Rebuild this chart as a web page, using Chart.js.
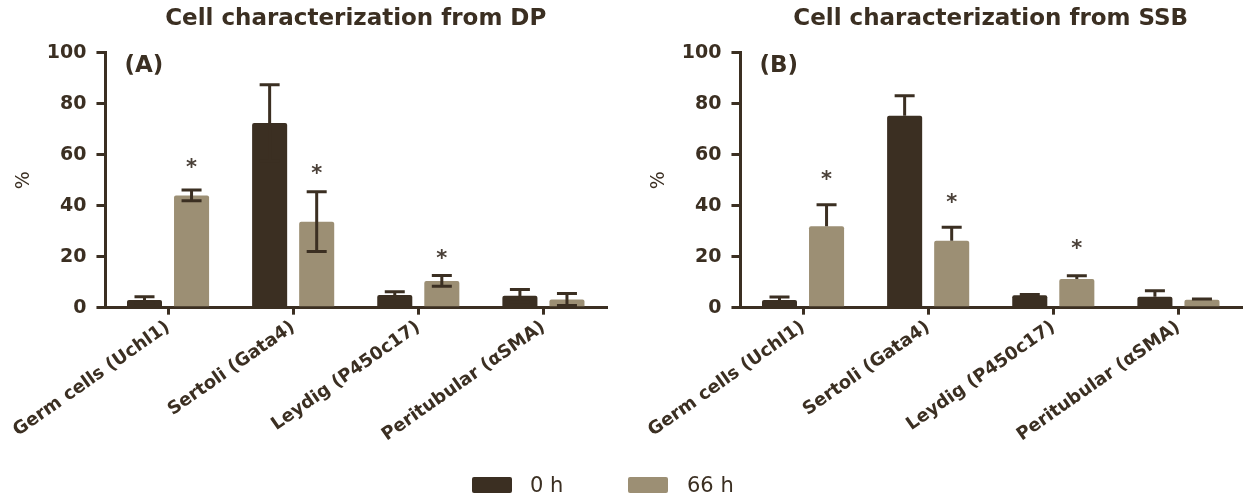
<!DOCTYPE html>
<html>
<head>
<meta charset="utf-8">
<script src="https://cdn.jsdelivr.net/npm/chart.js@4"></script>
<style>
  html, body { margin: 0; padding: 0; background: #ffffff; }
  #wrap { position: relative; width: 1254px; height: 502px; overflow: hidden; }
  #cA { position: absolute; left: 0; top: 0; }
  #cB { position: absolute; left: 635px; top: 0; }
  #legend { position: absolute; top: 473px; left: 0; width: 1254px; height: 24px;
            font-family: 'DejaVu Sans', sans-serif; font-size: 21px; color: #3b2f22; }
  .item { position: absolute; top: 0; height: 24px; line-height: 24px; }
  .box { position: absolute; top: 4px; width: 40px; height: 16px; border-radius: 2px; }
  .lbl { position: absolute; top: 0; white-space: nowrap; }
</style>
</head>
<body>
<div id="wrap">
  <canvas id="cA" width="627" height="502"></canvas>
  <canvas id="cB" width="619" height="502"></canvas>
  <div id="legend"></div>
</div>
<script>
// ---------- data ----------
const categories = ['Germ cells (Uchl1)', 'Sertoli (Gata4)', 'Leydig (P450c17)', 'Peritubular (\u03B1SMA)'];
const seriesNames = ['0 h', '66 h'];
const seriesColors = ['#3b2f22', '#9c8f74'];
const yTicks = [0, 20, 40, 60, 80, 100];

const titleA = 'Cell characterization from DP';
const titleB = 'Cell characterization from SSB';
const panelA = '(A)';
const panelB = '(B)';

// Panel A (DP)
const dp0h      = [3.0, 72.4, 5.0, 4.7];
const dp0hErr   = [1.3, 15.0, 1.2, 2.4];
const dp66h     = [44.0, 33.7, 10.5, 3.2];
const dp66hErr  = [2.1, 11.7, 2.1, 2.4];
const dpStarY   = [56.0, 53.8, 20.3, null];

// Panel B (SSB)
const ssb0h     = [3.0, 75.2, 4.9, 4.3];
const ssb0hErr  = [1.2, 7.9, 0.3, 2.3];
const ssb66h    = [31.9, 26.2, 11.2, 3.1];
const ssb66hErr = [8.4, 5.3, 1.3, 0.3];
const ssbStarY  = [51.6, 42.4, 24.3, null];

// ---------- styling ----------
const ink = '#3b2f22';
const FONT = 'DejaVu Sans';

const extrasPlugin = {
  id: 'extras',
  afterDatasetsDraw(chart, args, opts) {
    const ctx = chart.ctx;
    const y = chart.scales.y;
    ctx.save();
    ctx.strokeStyle = ink;
    ctx.lineWidth = 3;
    opts.errors.forEach((errs, d) => {
      const meta = chart.getDatasetMeta(d);
      const vals = chart.data.datasets[d].data;
      meta.data.forEach((bar, i) => {
        const v = vals[i], e = errs[i];
        const yt = y.getPixelForValue(v + e);
        const yb = opts.both ? y.getPixelForValue(Math.max(0, v - e)) : y.getPixelForValue(v);
        const half = 10;
        ctx.beginPath();
        ctx.moveTo(bar.x, yt); ctx.lineTo(bar.x, yb);
        ctx.moveTo(bar.x - half, yt); ctx.lineTo(bar.x + half, yt);
        if (opts.both) { ctx.moveTo(bar.x - half, yb); ctx.lineTo(bar.x + half, yb); }
        ctx.stroke();
      });
    });
    // significance stars above the 66 h bars
    const meta1 = chart.getDatasetMeta(1);
    ctx.fillStyle = '#4a4038';
    ctx.font = 'bold 21px ' + FONT;
    ctx.textAlign = 'center';
    ctx.textBaseline = 'middle';
    opts.stars.forEach((s, i) => {
      if (s === null) return;
      ctx.fillText('*', meta1.data[i].x, y.getPixelForValue(s) + 4);
    });
    // panel letter
    ctx.fillStyle = ink;
    ctx.font = 'bold 23px ' + FONT;
    ctx.textAlign = 'left';
    ctx.textBaseline = 'middle';
    ctx.fillText(opts.panel, chart.chartArea.left + 19, chart.chartArea.top + 13);
    ctx.restore();
  }
};

function makeChart(id, title, panel, d0, d66, e0, e66, stars, both, padRight) {
  return new Chart(document.getElementById(id), {
    type: 'bar',
    data: {
      labels: categories,
      datasets: [
        { label: seriesNames[0], data: d0, backgroundColor: seriesColors[0], borderRadius: 2, borderSkipped: 'bottom' },
        { label: seriesNames[1], data: d66, backgroundColor: seriesColors[1], borderRadius: 2, borderSkipped: 'bottom' }
      ]
    },
    options: {
      responsive: false,
      animation: false,
      devicePixelRatio: 1,
      categoryPercentage: 0.752,
      barPercentage: 0.745,
      layout: { padding: { left: 0, right: padRight, top: 0, bottom: 54 } },
      plugins: {
        legend: { display: false },
        tooltip: { enabled: false },
        title: {
          display: true, text: title, fullSize: false, color: ink,
          font: { family: FONT, weight: 'bold', size: 23 },
          padding: { top: 5, bottom: 20 }
        },
        extras: { errors: [e0, e66], stars: stars, both: both, panel: panel }
      },
      scales: {
        x: {
          offset: true,
          grid: { offset: false, drawOnChartArea: false, drawTicks: true, tickLength: 7, color: ink, lineWidth: 3 },
          border: { display: true, color: ink, width: 3 },
          ticks: { color: ink, font: { family: FONT, weight: 'bold', size: 18 },
                   maxRotation: 35, minRotation: 35, padding: 2, autoSkip: false }
        },
        y: {
          min: 0, max: 100,
          afterBuildTicks: (axis) => { axis.ticks = yTicks.map(v => ({ value: v })); },
          grid: { drawOnChartArea: false, drawTicks: true, tickLength: 9, color: ink, lineWidth: 3 },
          border: { display: true, color: ink, width: 3 },
          ticks: { color: ink, font: { family: FONT, weight: 'bold', size: 19 }, padding: 10 },
          title: { display: true, text: '%', color: ink, font: { family: FONT, size: 19 },
                   padding: { top: 13, bottom: 1 } }
        }
      }
    },
    plugins: [extrasPlugin]
  });
}

makeChart('cA', titleA, panelA, dp0h, dp66h, dp0hErr, dp66hErr, dpStarY, true, 21);
makeChart('cB', titleB, panelB, ssb0h, ssb66h, ssb0hErr, ssb66hErr, ssbStarY, false, 13);

// ---------- legend (HTML) ----------
const legend = document.getElementById('legend');
const legendX = [472, 628];
seriesNames.forEach((name, i) => {
  const it = document.createElement('div');
  it.className = 'item';
  it.style.left = legendX[i] + 'px';
  it.innerHTML = '<span class="box" style="left:0;background:' + seriesColors[i] + '"></span>' +
                 '<span class="lbl" style="left:' + (i === 0 ? 58 : 59) + 'px">' + name + '</span>';
  legend.appendChild(it);
});
</script>
</body>
</html>
